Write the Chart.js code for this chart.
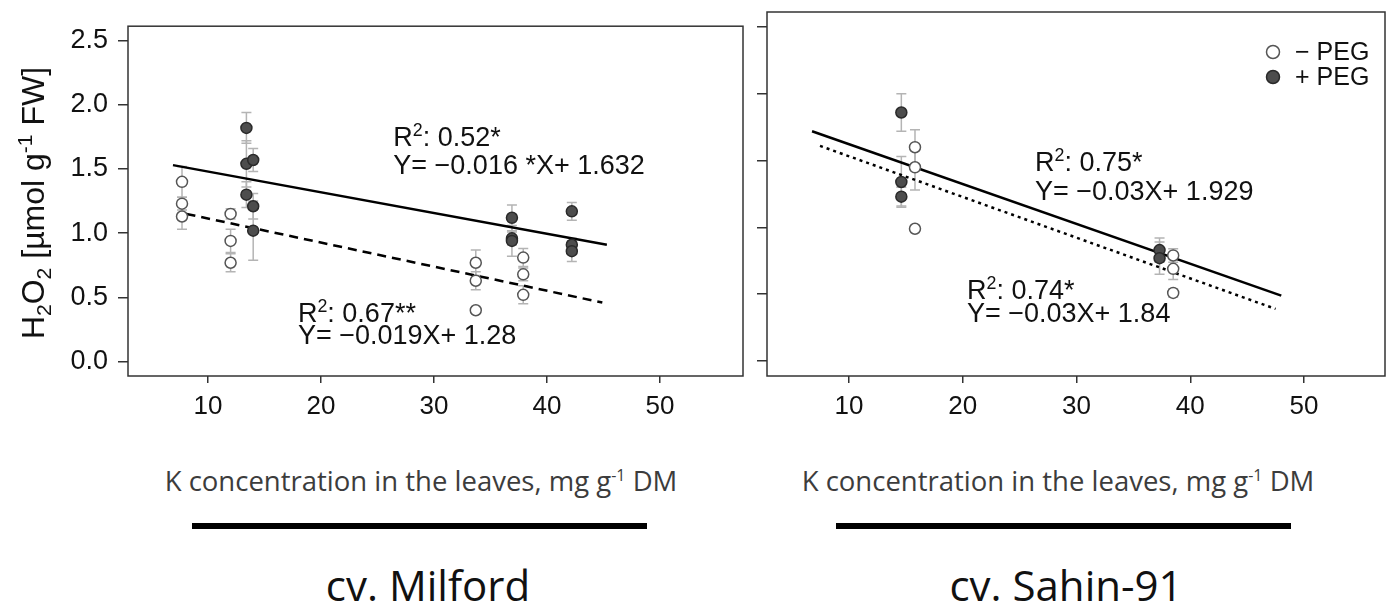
<!DOCTYPE html>
<html>
<head>
<meta charset="utf-8">
<script src="https://cdn.jsdelivr.net/npm/chart.js@4.4.1/dist/chart.umd.min.js"></script>
<style>
  body { margin:0; background:#fff; width:1392px; height:612px; position:relative; overflow:hidden; }
  .wrap { position:absolute; top:0; height:430px; }
  #w1 { left:0; width:750px; }
  #w2 { left:750px; width:642px; }
  .xt { position:absolute; top:462px; font-family:"Open Sans", sans-serif; font-size:27.5px; color:#3c3c3c; transform:translateX(-50%); white-space:nowrap; }
  .bar { position:absolute; top:523px; height:6px; background:#000; }
  .cv { position:absolute; top:556px; font-family:"Open Sans", sans-serif; font-size:42px; color:#111; transform:translateX(-50%); white-space:nowrap; }
</style>
</head>
<body>
<div class="wrap" id="w1"><canvas id="c1" width="750" height="430"></canvas></div>
<div class="wrap" id="w2"><canvas id="c2" width="642" height="430"></canvas></div>

<div class="xt" style="left:421px">K concentration in the leaves, mg g<sup style="font-size:16px">-1</sup> DM</div>
<div class="xt" style="left:1058px">K concentration in the leaves, mg g<sup style="font-size:16px">-1</sup> DM</div>
<div class="bar" style="left:192px;width:455px"></div>
<div class="bar" style="left:836px;width:455px"></div>
<div class="cv" style="left:428px">cv. Milford</div>
<div class="cv" style="left:1066px">cv. Sahin-91</div>

<script>
// ---- data ----
const yTickVals = [0, 0.5, 1.0, 1.5, 2.0, 2.5];
const xTickVals = [10, 20, 30, 40, 50];

// cv. Milford
const milMinusX   = [7.7, 7.7, 7.7, 12.0, 12.0, 12.0, 33.7, 33.7, 33.7, 37.9, 37.9, 37.9];
const milMinusY   = [1.40, 1.23, 1.13, 1.15, 0.94, 0.77, 0.77, 0.63, 0.40, 0.81, 0.68, 0.52];
const milMinusErr = [0.12, 0.05, 0.10, 0.04, 0.09, 0.07, 0.10, 0.07, 0, 0.07, 0.05, 0.07];

const milPlusX    = [13.4, 13.4, 13.4, 14.0, 14.0, 14.0, 36.9, 36.9, 36.9, 42.2, 42.2, 42.2];
const milPlusY    = [1.82, 1.54, 1.30, 1.57, 1.21, 1.02, 1.12, 0.96, 0.94, 1.17, 0.91, 0.86];
const milPlusErr  = [0.12, 0.18, 0.10, 0.09, 0.10, 0.23, 0.10, 0.05, 0.12, 0.07, 0.05, 0.08];

const milPlusFitX  = [6.9, 45.3];
const milPlusFitY  = [1.53, 0.91];
const milMinusFitX = [8.1, 44.9];
const milMinusFitY = [1.15, 0.46];

// cv. Sahin-91
const sahMinusX   = [15.8, 15.8, 15.8, 38.5, 38.5, 38.5];
const sahMinusY   = [1.60, 1.45, 0.99, 0.79, 0.69, 0.51];
const sahMinusErr = [0.13, 0.17, 0, 0.05, 0.08, 0.03];

const sahPlusX    = [14.6, 14.6, 14.6, 37.3, 37.3];
const sahPlusY    = [1.86, 1.34, 1.23, 0.83, 0.77];
const sahPlusErr  = [0.14, 0.19, 0.07, 0.09, 0.12];

const sahPlusFitX  = [6.75, 48.0];
const sahPlusFitY  = [1.72, 0.49];
const sahMinusFitX = [7.45, 47.5];
const sahMinusFitY = [1.61, 0.39];

const FONT = '"Liberation Sans", Arial, sans-serif';
const pts = (xs, ys) => xs.map((x, i) => ({ x, y: ys[i] }));

// text with ^{sup} and _{sub}
function parseRich(str) {
  return str.split(/(\^\{[^}]*\}|_\{[^}]*\})/).filter(s => s).map(s => {
    if (s.startsWith("^{")) return { t: s.slice(2, -1), sup: true };
    if (s.startsWith("_{")) return { t: s.slice(2, -1), sub: true };
    return { t: s };
  });
}
function richWidth(ctx, parts, size) {
  let w = 0;
  for (const p of parts) {
    ctx.font = `${(p.sup || p.sub) ? size * 0.66 : size}px ${FONT}`;
    w += ctx.measureText(p.t).width;
  }
  return w;
}
function drawRich(ctx, str, x, y, size) {
  const parts = parseRich(str);
  let cx = x;
  ctx.textBaseline = "alphabetic";
  ctx.textAlign = "left";
  for (const p of parts) {
    const s = (p.sup || p.sub) ? size * 0.66 : size;
    ctx.font = `${s}px ${FONT}`;
    const dy = p.sup ? -size * 0.38 : p.sub ? size * 0.22 : 0;
    ctx.fillText(p.t, cx, y + dy);
    cx += ctx.measureText(p.t).width;
  }
}

// frame around plot area
const framePlugin = {
  id: "frame",
  afterDraw(chart) {
    const a = chart.chartArea, ctx = chart.ctx;
    ctx.save();
    ctx.strokeStyle = "#333";
    ctx.lineWidth = 1.5;
    ctx.strokeRect(a.left, a.top, a.right - a.left, a.bottom - a.top);
    ctx.restore();
  }
};

// vertical error bars from dataset.errors
const errorBarPlugin = {
  id: "errorBars",
  beforeDatasetsDraw(chart) {
    const ctx = chart.ctx, ys = chart.scales.y;
    ctx.save();
    ctx.strokeStyle = "#b4b4b4";
    ctx.lineWidth = 1.5;
    chart.data.datasets.forEach((ds, di) => {
      if (!ds.errors) return;
      const meta = chart.getDatasetMeta(di);
      meta.data.forEach((el, i) => {
        const e = ds.errors[i];
        if (!e) return;
        const v = ds.data[i].y;
        const top = ys.getPixelForValue(v + e), bot = ys.getPixelForValue(v - e);
        ctx.beginPath();
        ctx.moveTo(el.x, top); ctx.lineTo(el.x, bot);
        ctx.moveTo(el.x - 5, top); ctx.lineTo(el.x + 5, top);
        ctx.moveTo(el.x - 5, bot); ctx.lineTo(el.x + 5, bot);
        ctx.stroke();
      });
    });
    ctx.restore();
  }
};

// regression notes, placed in data coordinates
function notesPlugin(notes) {
  return {
    id: "notes",
    afterDatasetsDraw(chart) {
      const ctx = chart.ctx, xs = chart.scales.x, ys = chart.scales.y;
      ctx.save();
      ctx.fillStyle = "#111";
      notes.forEach(n => drawRich(ctx, n.text, xs.getPixelForValue(n.x), ys.getPixelForValue(n.y), 27));
      ctx.restore();
    }
  };
}

// y title on the left chart
const yTitlePlugin = {
  id: "yTitle",
  afterDraw(chart) {
    const ctx = chart.ctx, size = 32;
    const str = "H_{2}O_{2} [µmol g^{-1} FW]";
    const w = richWidth(ctx, parseRich(str), size);
    ctx.save();
    ctx.translate(44, 203);
    ctx.rotate(-Math.PI / 2);
    ctx.fillStyle = "#111";
    drawRich(ctx, str, -w / 2, 0, size);
    ctx.restore();
  }
};

// legend in top-right of the right chart
const legendPlugin = {
  id: "peglegend",
  afterDraw(chart) {
    const ctx = chart.ctx, a = chart.chartArea;
    const items = chart.data.datasets.filter(d => d.inLegend);
    ctx.save();
    items.forEach((d, i) => {
      const cx = a.right - 112, cy = a.top + 40 + i * 25;
      ctx.beginPath();
      ctx.arc(cx, cy, 6.5, 0, Math.PI * 2);
      ctx.fillStyle = d.backgroundColor; ctx.fill();
      ctx.strokeStyle = d.borderColor; ctx.lineWidth = 1.5; ctx.stroke();
      ctx.fillStyle = "#111";
      ctx.font = `25px ${FONT}`;
      ctx.textBaseline = "middle";
      ctx.fillText(d.label, cx + 22, cy + 1);
    });
    ctx.restore();
  }
};

const openStyle   = { backgroundColor: "#fff", borderColor: "#555", borderWidth: 1.5, pointRadius: 5.5 };
const filledStyle = { backgroundColor: "#4d4d4d", borderColor: "#2a2a2a", borderWidth: 1.5, pointRadius: 5.5 };

function fitLine(xs, ys, dash) {
  return {
    type: "line", data: pts(xs, ys), borderColor: "#000", borderWidth: 2.5,
    borderDash: dash, pointRadius: 0, fill: false, order: 3
  };
}

function makeChart(id, cfg) {
  return new Chart(document.getElementById(id), {
    type: "scatter",
    data: { datasets: cfg.datasets },
    options: {
      responsive: false,
      animation: false,
      events: [],
      layout: { padding: { top: 12, right: 7, left: 0, bottom: 0 } },
      plugins: { legend: { display: false }, tooltip: { enabled: false } },
      scales: {
        x: {
          type: "linear", min: cfg.xMin, max: cfg.xMax,
          afterBuildTicks: s => { s.ticks = xTickVals.map(v => ({ value: v })); },
          afterFit: s => { s.height = 54; },
          grid: { drawOnChartArea: false, drawTicks: true, tickLength: 7, color: "#333", lineWidth: 1.5 },
          border: { display: false },
          ticks: { color: "#111", font: { family: FONT, size: 26 }, padding: 8, maxRotation: 0 }
        },
        y: {
          type: "linear", min: -0.112, max: 2.612,
          afterBuildTicks: s => { s.ticks = yTickVals.map(v => ({ value: v })); },
          afterFit: s => { s.width = cfg.yWidth; },
          grid: { drawOnChartArea: false, drawTicks: true, tickLength: 10, color: "#333", lineWidth: 1.5 },
          border: { display: false },
          ticks: {
            display: cfg.yLabels, color: "#111", font: { family: FONT, size: 27 }, padding: 10,
            callback: v => Number(v).toFixed(1)
          }
        }
      }
    },
    plugins: [framePlugin, errorBarPlugin, ...cfg.plugins]
  });
}

makeChart("c1", {
  xMin: 2.92, xMax: 57.35, yWidth: 128, yLabels: true,
  datasets: [
    fitLine(milPlusFitX, milPlusFitY, []),
    fitLine(milMinusFitX, milMinusFitY, [9, 6]),
    { label: "− PEG", data: pts(milMinusX, milMinusY), errors: milMinusErr, ...openStyle, order: 1 },
    { label: "+ PEG", data: pts(milPlusX, milPlusY), errors: milPlusErr, ...filledStyle, order: 1 }
  ],
  plugins: [yTitlePlugin, notesPlugin([
    { text: "R^{2}: 0.52*", x: 26.4, y: 1.68 },
    { text: "Y= −0.016 *X+ 1.632", x: 26.4, y: 1.46 },
    { text: "R^{2}: 0.67**", x: 17.96, y: 0.31 },
    { text: "Y= −0.019X+ 1.28", x: 17.96, y: 0.135 }
  ])]
});

makeChart("c2", {
  xMin: 2.79, xMax: 57.12, yWidth: 17, yLabels: false,
  datasets: [
    fitLine(sahPlusFitX, sahPlusFitY, []),
    fitLine(sahMinusFitX, sahMinusFitY, [3, 4]),
    { label: "− PEG", data: pts(sahMinusX, sahMinusY), errors: sahMinusErr, ...openStyle, order: 1, inLegend: true },
    { label: "+ PEG", data: pts(sahPlusX, sahPlusY), errors: sahPlusErr, ...filledStyle, order: 1, inLegend: true }
  ],
  plugins: [legendPlugin, notesPlugin([
    { text: "R^{2}: 0.75*", x: 26.35, y: 1.42 },
    { text: "Y= −0.03X+ 1.929", x: 26.35, y: 1.205 },
    { text: "R^{2}: 0.74*", x: 20.37, y: 0.464 },
    { text: "Y= −0.03X+ 1.84", x: 20.37, y: 0.292 }
  ])]
});
</script>
</body>
</html>
